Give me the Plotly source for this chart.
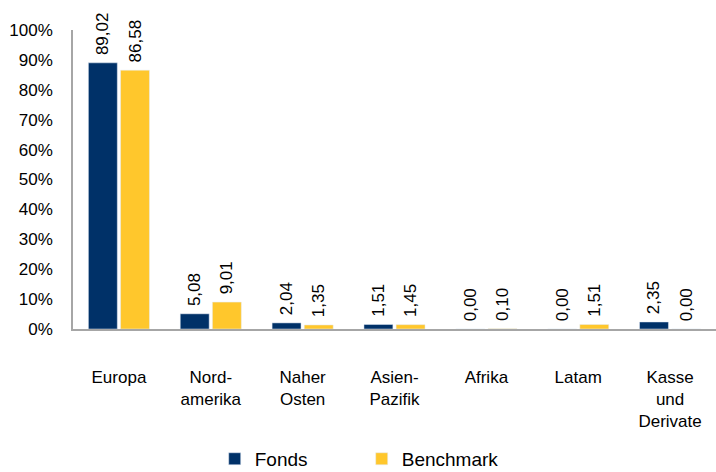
import plotly.graph_objects as go

categories = ["Europa", "Nord-<br>amerika", "Naher<br>Osten", "Asien-<br>Pazifik", "Afrika", "Latam", "Kasse<br>und<br>Derivate"]
fonds = [89.02, 5.08, 2.04, 1.51, 0.00, 0.00, 2.35]
benchmark = [86.58, 9.01, 1.35, 1.45, 0.10, 1.51, 0.00]
y_ticks = [0, 10, 20, 30, 40, 50, 60, 70, 80, 90, 100]
y_tick_labels = [f"{v}%" for v in y_ticks]

def labels(vals):
    return ["\u00a0" + f"{v:.2f}".replace(".", ",") for v in vals]

font = dict(family="Liberation Sans, Arial, sans-serif", size=17, color="#000000")
legend_font = dict(family="Liberation Sans, Arial, sans-serif", size=19, color="#000000")

fig = go.Figure()
fig.add_bar(x=categories, y=fonds, name="Fonds", marker_color="#003168",
            text=labels(fonds), textposition="outside", textangle=-90,
            textfont=font, cliponaxis=False, constraintext="none")
fig.add_bar(x=categories, y=benchmark, name="Benchmark", marker_color="#FFC72C",
            text=labels(benchmark), textposition="outside", textangle=-90,
            textfont=font, cliponaxis=False, constraintext="none")

fig.update_layout(
    width=716, height=482,
    margin=dict(l=73, r=0, t=30, b=153),
    barmode="group", bargap=0.3, bargroupgap=0.1,
    plot_bgcolor="white", paper_bgcolor="white",
    font=font,
    showlegend=True,
    legend=dict(orientation="h", x=0.449, xanchor="center", y=-0.498, yanchor="bottom",
                font=legend_font, entrywidth=102, itemwidth=30),
)
fig.update_xaxes(showline=True, linecolor="#A6A6A6", linewidth=1.5, ticks="",
                 tickfont=font, ticklabelstandoff=32, showgrid=False, automargin=False)
fig.update_yaxes(range=[0, 100], tickvals=y_ticks, ticktext=y_tick_labels, showline=True,
                 linecolor="#A6A6A6", linewidth=1.5, showgrid=False, zeroline=False,
                 tickfont=font, ticks="", ticklabelstandoff=15, automargin=False)

fig.write_html("out.html", config={"displayModeBar": False},
               post_script="document.body.style.margin='0';document.body.style.overflow='hidden';")
